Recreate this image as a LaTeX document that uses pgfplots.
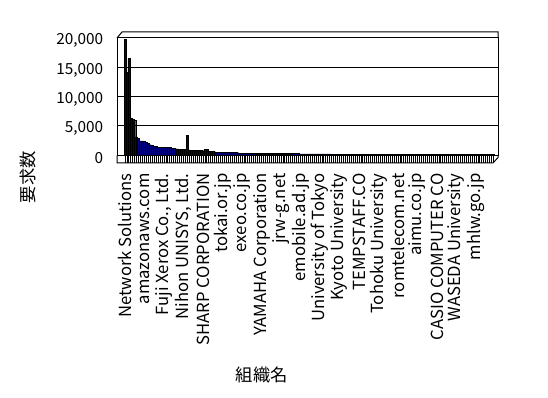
\documentclass[border=0pt]{standalone}
\usepackage{fontspec}
\setmainfont{Noto Sans CJK JP}
\usepackage{pgfplots}
\pgfplotsset{compat=1.18}
\definecolor{barnavy}{RGB}{0,0,128}
\begin{document}
\begin{tikzpicture}
\begin{scope}[x=0.75pt,y=-0.75pt]
\useasboundingbox (0,0) rectangle (548,398);
\end{scope}
\begin{axis}[
  at={(87.75pt,-116.475pt)}, anchor=south west,
  scale only axis, width=285.75pt, height=87.975pt,
  xmin=-3.1, xmax=192.3, ymin=0, ymax=20000,
  ybar, bar width=1,
  axis line style={black, line width=0.75pt},
  ymajorgrids, grid style={black, line width=0.75pt},
  ytick={0,5000,10000,15000,20000},
  ytick style={draw=none},
  yticklabel style={font=\fontsize{11.5}{13}\selectfont, anchor=east, inner sep=0pt, xshift=-4.25pt, yshift=-2pt},
  /pgf/number format/1000 sep={,},
  /pgf/number format/assume math mode=true,
  scaled y ticks=false,
  tick pos=left, tick align=outside,
  major tick length=6pt, minor tick length=6pt,
  xtick={1,11,...,181},
  minor xtick={1,...,190},
  xtick style={black, line width=0.6pt},
  minor tick style={black, line width=0.6pt},
  xticklabels={Network Solutions, amazonaws.com, {Fuji Xerox Co., Ltd.}, {Nihon UNISYS, Ltd.}, SHARP CORPORATION, tokai.or.jp, exeo.co.jp, YAMAHA Corporation, jrw-g.net, emobile.ad.jp, University of Tokyo, Kyoto University, TEMPSTAFF.CO, Tohoku University, romtelecom.net, aimu.co.jp, CASIO COMPUTER CO, WASEDA University, mhlw.go.jp},
  xticklabel style={font=\fontsize{12.5}{14}\selectfont, rotate=90, anchor=east, inner sep=0pt},
  xticklabel shift=7.5pt,
  xlabel={組織名}, ylabel={要求数},
  xlabel style={at={(rel axis cs:0.38,-1.873)}, anchor=center, font=\fontsize{13}{15}\selectfont},
  ylabel style={at={(rel axis cs:-0.2336,-0.185)}, anchor=center, font=\fontsize{13}{15}\selectfont},
]
\addplot[fill=barnavy, draw=black, line width=0.3pt] coordinates {
(1,19800) (2,14100) (3,16500) (4,6400) (5,6150) (6,6000) (7,3150) (8,2900) (9,2450) (10,2450)
(11,2400) (12,2200) (13,2050) (14,1800) (15,1750) (16,1550) (17,1500) (18,1380) (19,1370) (20,1360)
(21,1350) (22,1340) (23,1320) (24,1300) (25,1200) (26,1150) (27,1120) (28,1100) (29,1060) (30,1040)
(31,1020) (32,1000) (33,3450) (34,920) (35,900) (36,880) (37,860) (38,840) (39,820) (40,800)
(41,780) (42,1000) (43,1070) (44,680) (45,650) (46,630) (47,610) (48,520) (49,500) (50,490)
(51,480) (52,475) (53,470) (54,465) (55,460) (56,455) (57,450) (58,445) (59,440) (60,390)
(61,380) (62,375) (63,370) (64,365) (65,360) (66,355) (67,350) (68,345) (69,342) (70,340)
(71,335) (72,333) (73,331) (74,329) (75,327) (76,325) (77,323) (78,321) (79,319) (80,317)
(81,315) (82,313) (83,311) (84,309) (85,307) (86,305) (87,303) (88,302) (89,301) (90,300)
(91,260) (92,257) (93,254) (94,251) (95,248) (96,245) (97,242) (98,240) (99,238) (100,236)
(101,234) (102,232) (103,230) (104,228) (105,226) (106,224) (107,215) (108,214) (109,213) (110,212)
(111,211) (112,210) (113,209) (114,208) (115,207) (116,206) (117,205) (118,204) (119,203) (120,202)
(121,201) (122,200) (123,199) (124,198) (125,197) (126,196) (127,195) (128,194) (129,193) (130,192)
(131,191) (132,190) (133,189) (134,188) (135,187) (136,186) (137,185) (138,184) (139,183) (140,182)
(141,181) (142,180) (143,179) (144,178) (145,177) (146,176) (147,175) (148,170) (149,168) (150,167)
(151,165) (152,164) (153,162) (154,160) (155,159) (156,157) (157,156) (158,154) (159,152) (160,151)
(161,149) (162,148) (163,146) (164,144) (165,143) (166,141) (167,140) (168,138) (169,136) (170,135)
(171,133) (172,132) (173,130) (174,128) (175,127) (176,125) (177,124) (178,122) (179,120) (180,119)
(181,117) (182,116) (183,114) (184,112) (185,111) (186,109) (187,108) (188,106) (189,104) (190,103)
};
\end{axis}
\begin{scope}[x=0.75pt,y=-0.75pt, line width=0.75pt]
\draw (117,38) -- (122,32) -- (498,32) -- (498,38);
\draw (117,155.3) -- (117,163) -- (493,163) -- (498,157.5) -- (498,155.3);
\end{scope}
\end{tikzpicture}
\end{document}
